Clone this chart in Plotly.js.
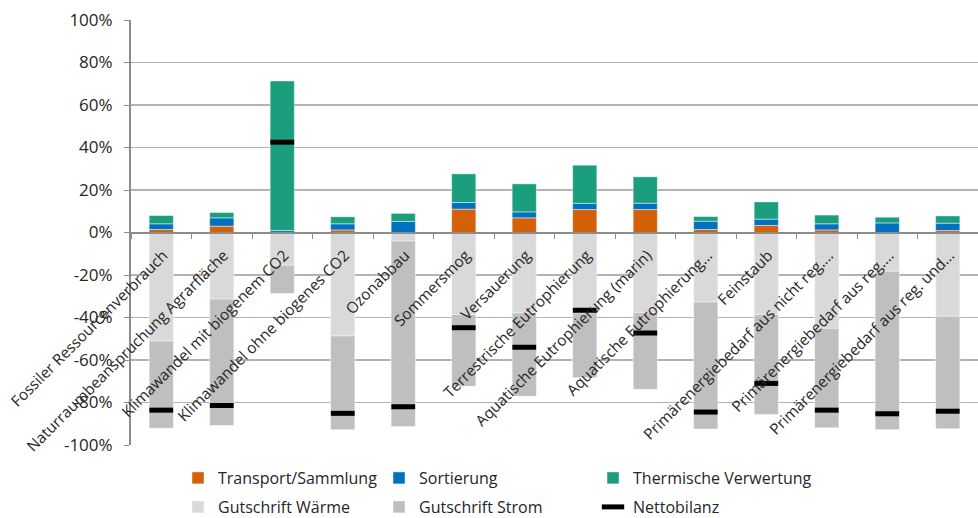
<!DOCTYPE html>
<html>
<head>
<meta charset="utf-8">
<script src="https://cdn.plot.ly/plotly-3.0.1.min.js"></script>
<style>
  html, body { margin: 0; padding: 0; background: #ffffff; }
  #chart { width: 978px; height: 518px; }
</style>
</head>
<body>
<div id="chart"></div>
<script>
const categories = [
  "Fossiler Ressourcenverbrauch",
  "Naturraumbeanspruchung Agrarfläche",
  "Klimawandel mit biogenem CO2",
  "Klimawandel ohne biogenes CO2",
  "Ozonabbau",
  "Sommersmog",
  "Versauerung",
  "Terrestrische Eutrophierung",
  "Aquatische Eutrophierung (marin)",
  "Aquatische Eutrophierung…",
  "Feinstaub",
  "Primärenergiebedarf aus nicht reg.…",
  "Primärenergiebedarf aus reg.…",
  "Primärenergiebedarf aus reg. und…"
];
const transport  = [1.4, 3.0, 0.0, 1.2, 0.0, 11.0, 6.9, 10.8, 10.8, 1.4, 3.3, 1.2, 0.0, 0.9];
const sortierung = [2.7, 3.9, 0.9, 2.9, 5.2, 3.1, 2.8, 2.9, 3.0, 3.9, 3.0, 2.9, 4.5, 3.5];
const thermisch  = [3.9, 2.5, 70.4, 3.3, 3.8, 13.5, 13.2, 18.0, 12.4, 2.2, 8.1, 4.1, 2.7, 3.4];
const waerme     = [-51.1, -31.3, -15.4, -48.7, -4.0, -38.6, -37.9, -37.9, -37.7, -32.7, -38.6, -45.1, -18.2, -39.4];
const strom      = [-41.0, -59.5, -13.3, -44.1, -87.3, -33.8, -39.2, -30.4, -36.1, -59.8, -47.0, -46.8, -74.6, -52.9];
const netto      = [-83.6, -81.4, 42.5, -85.1, -82.0, -44.8, -54.0, -36.6, -47.3, -84.5, -71.0, -83.6, -85.3, -84.1];
const seriesNames = ["Transport/Sammlung", "Sortierung", "Thermische Verwertung", "Gutschrift Wärme", "Gutschrift Strom", "Nettobilanz"];
const yTickVals = [-100, -80, -60, -40, -20, 0, 20, 40, 60, 80, 100];

const edge = {color: "rgba(255,255,255,0.45)", width: 1};
function barTrace(y, name, color, legend) {
  return {type: "bar", x: categories, y: y, name: name, legend: legend,
          marker: {color: color, line: edge}, hoverinfo: "x+y+name"};
}
const data = [
  barTrace(transport, seriesNames[0], "#D5600A", "legend"),
  barTrace(sortierung, seriesNames[1], "#0071C1", "legend2"),
  barTrace(thermisch, seriesNames[2], "#1A9E7E", "legend3"),
  barTrace(waerme, seriesNames[3], "#D9D9D9", "legend4"),
  barTrace(strom, seriesNames[4], "#BFBFBF", "legend5"),
  {type: "scatter", mode: "markers", x: categories, y: netto, name: seriesNames[5], legend: "legend6",
   marker: {symbol: "line-ew", size: 17, color: "#000000", line: {color: "#000000", width: 5}}}
];

const plotL = 131, plotR = 978, plotT = 20, plotB = 445, H = 518;
function px2x(px) { return (px - plotL) / (plotR - plotL); }
function py2y(py) { return (plotB - py) / (plotB - plotT); }
const font = {family: "Open Sans, sans-serif", size: 16, color: "#262626"};
const xFont = {family: "Open Sans, sans-serif", size: 15.3, color: "#262626"};
const yFont = {family: "Open Sans, sans-serif", size: 17, color: "#262626"};
function leg(pxX, pyY) {
  return {orientation: "h", x: px2x(pxX), y: py2y(pyY), xanchor: "left", yanchor: "middle",
          bgcolor: "rgba(0,0,0,0)", font: font, itemwidth: 30, itemclick: false, itemdoubleclick: false};
}

const layout = {
  width: 978, height: 518,
  margin: {l: plotL, r: 0, t: plotT, b: H - plotB, pad: 0, autoexpand: false},
  paper_bgcolor: "#ffffff", plot_bgcolor: "#ffffff",
  font: font,
  barmode: "relative",
  bargap: 0.6,
  showlegend: true,
  xaxis: {
    type: "category", anchor: "free", position: 0.5,
    range: [-0.5, categories.length - 0.5],
    tickangle: -45, ticks: "outside", tickson: "boundaries", ticklen: 5, tickwidth: 1,
    tickcolor: "#8c8c8c", showline: true, linecolor: "#8c8c8c", linewidth: 2,
    showgrid: false, zeroline: false, tickfont: xFont, automargin: false, fixedrange: true,
    ticklabelshift: 2, ticklabelstandoff: 7
  },
  yaxis: {
    range: [-100, 100], tickvals: yTickVals, ticktext: yTickVals.map(v => v + "%"),
    ticks: "outside", ticklen: 5, tickcolor: "#8c8c8c",
    showline: true, linecolor: "#8c8c8c", linewidth: 2,
    showgrid: true, gridcolor: "#b3b3b3", gridwidth: 1.5,
    zeroline: true, zerolinecolor: "#8c8c8c", zerolinewidth: 2,
    tickfont: yFont, ticklabelstandoff: 8, automargin: false, fixedrange: true
  },
  legend: leg(178, 478),
  legend2: leg(379, 478),
  legend3: leg(593, 478),
  legend4: leg(178, 507),
  legend5: leg(379, 507),
  legend6: leg(593, 507)
};

Plotly.newPlot("chart", data, layout, {displayModeBar: false, staticPlot: true});
</script>
</body>
</html>
